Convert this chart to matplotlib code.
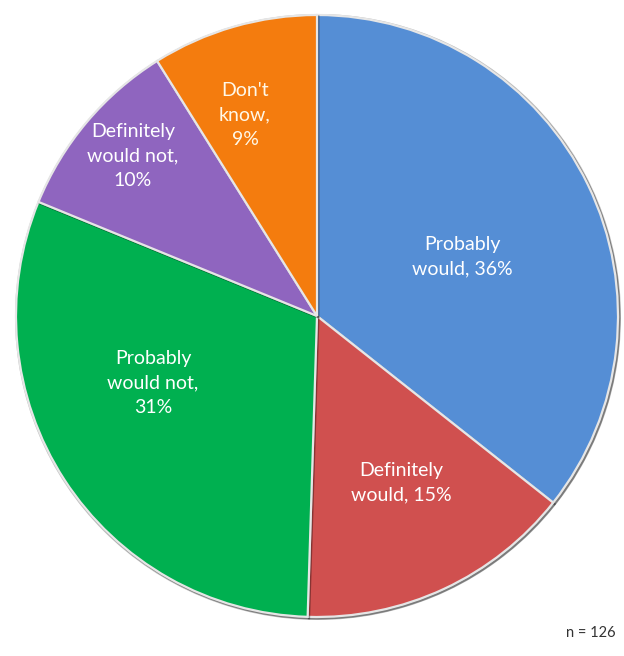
import matplotlib.pyplot as plt
import matplotlib.patheffects as pe

# survey responses, clockwise from 12 o'clock
label_text = ["Probably\nwould, {}%", "Definitely\nwould, {}%", "Probably\nwould not,\n{}%",
              "Definitely\nwould not,\n{}%", "Don't\nknow,\n{}%"]
values = [36, 15, 31, 10, 9]
colors = ["#558ed5", "#d0504f", "#00b050", "#8f65bf", "#f47c0e"]
n_total = 126

# label anchor points in pixel space (x from left, y from top)
label_pos = [(462, 257), (401, 483), (153, 383), (133, 156), (245, 115)]

W, H = 624, 656
cx, cy, r = 317, 316, 301

fig = plt.figure(figsize=(W / 100, H / 100), dpi=100)
ax = fig.add_axes([0, 0, 1, 1])

# soft rim shadow behind the pie
shadow = plt.Circle((cx + 1, H - cy - 1), r + 2, color="#8a8a8a", alpha=0.55, lw=0)
ax.add_patch(shadow)

wedges, _ = ax.pie(values, colors=colors, startangle=90, counterclock=False,
                   center=(cx, H - cy), radius=r, frame=True,
                   wedgeprops=dict(edgecolor="#e6e6e6", linewidth=1.6))
for w in wedges:
    w.set_path_effects([pe.SimpleLineShadow(offset=(1, -1), alpha=0.35), pe.Normal()])

ax.set_xlim(0, W)
ax.set_ylim(0, H)
ax.set_aspect("equal")
ax.axis("off")

for txt, v, (x, y), c in zip(label_text, values, label_pos, colors):
    ax.text(x, H - y, txt.format(v), ha="center", va="center", fontsize=14,
            family="Lato", color="#fff8e8" if c == "#f47c0e" else "white",
            linespacing=1.55)

ax.text(591, H - 633, f"n = {n_total}", ha="center", va="center",
        fontsize=10.5, family="Lato", color="#333333")

fig.savefig("out.png", dpi=100)
